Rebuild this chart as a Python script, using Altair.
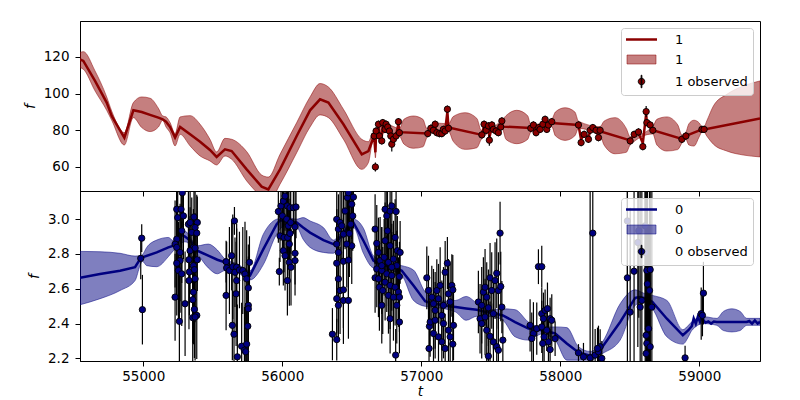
import altair as alt
import pandas as pd

# ---------------- colours ----------------
DARKRED = "#8b0000"
NAVY = "#000080"
X_DOMAIN = [54545, 59437]
X_TICKS = [55000, 56000, 57000, 58000, 59000]

# ---------------- band "1" (top panel) ----------------
line1_t = [54545, 54569, 54653, 54737, 54773, 54864, 54929, 54989, 55049, 55109,
           55140, 55164, 55193, 55229, 55265, 55337, 55409, 55480, 55528, 55588,
           55636, 55744, 55852, 55900, 55984, 56104, 56200, 56272, 56332, 56440,
           56572, 56620,
           56661, 56670, 56675, 56692, 56699, 56716, 56723, 56740, 56747, 56759,
           56771, 56781, 56788, 56800, 56819, 56836, 56843,
           57047, 57069, 57087, 57100, 57112, 57131, 57148, 57159, 57172, 57188, 57196,
           57436, 57452, 57467, 57483, 57490, 57508, 57519, 57538, 57555, 57572, 57580, 57590,
           57788, 57807, 57826, 57846, 57855, 57875, 57891, 57903, 57915, 57939,
           58131, 58150, 58172, 58203, 58215, 58234, 58258, 58275, 58287,
           58503, 58532, 58563, 58594, 58618, 58623, 58647, 58666,
           58875, 58904, 59019, 59035, 59437]
line1_f = [118.7, 117.8, 106.9, 95.1, 87.8, 76.0, 90.9, 90.0, 88.4, 86.9,
           86.0, 84.7, 81.8, 76.0, 81.8, 77.8, 73.8, 69.3, 65.5, 69.6,
           68.7, 58.7, 49.3, 47.8, 58.7, 76.9, 90.9, 96.9, 95.1, 83.3,
           66.9, 68.7,
           77.0, 68.0, 78.5, 82.0, 78.5, 76.5, 82.5, 81.0, 82.5, 81.0,
           79.0, 77.0, 74.5, 76.0, 77.5, 83.5, 79.0,
           78.3, 80.5, 80.0, 82.0, 79.5, 78.5, 78.5, 80.0, 80.0, 90.0, 81.5,
           77.5, 82.5, 80.0, 82.0, 76.0, 82.0, 80.5, 79.5, 79.0, 81.5, 83.5, 82.0,
           81.3, 82.5, 79.5, 81.0, 81.0, 83.0, 85.0, 81.5, 82.5, 84.0,
           82.9, 75.0, 78.0, 76.0, 79.5, 81.0, 79.5, 77.0, 79.5,
           74.5, 77.5, 78.5, 73.0, 89.0, 84.0, 82.5, 80.0,
           75.3, 77.0, 80.5, 80.5, 86.5]

band1_t = [54545, 54569, 54653, 54737, 54773, 54864, 54929, 54989, 55049, 55109,
           55140, 55164, 55193, 55229, 55265, 55337, 55409, 55480, 55528, 55588,
           55636, 55744, 55852, 55900, 55984, 56104, 56200, 56272, 56332, 56440,
           56572, 56620, 56650, 56661, 56670, 56680, 56760, 56843,
           56875, 56944, 57012, 57040, 57100, 57196, 57230, 57316, 57400, 57432,
           57580, 57610, 57687, 57765, 57788, 57939, 57965, 58035, 58105, 58131,
           58287, 58315, 58395, 58475, 58503, 58666, 58695, 58767, 58845, 58875,
           58904, 58925, 58962, 59000, 59019, 59035, 59054, 59102, 59198, 59318, 59437]
band1_hi = [122.4, 122.9, 112.4, 98.2, 90.5, 78.7, 95.1, 98.2, 97.5, 92.0,
            87.8, 87.3, 84.2, 78.2, 87.3, 88.0, 83.3, 75.1, 68.2, 75.6,
            75.1, 68.4, 55.6, 54.5, 66.9, 84.2, 98.2, 105.5, 103.6, 91.5,
            75.1, 73.8, 78.5, 79.0, 71.0, 81.0, 83.0, 81.0,
            86.0, 87.8, 86.0, 81.0, 84.0, 83.5, 87.5, 89.6, 86.5, 80.0,
            85.5, 88.0, 90.9, 88.0, 83.0, 86.0, 90.0, 92.3, 90.0, 85.0,
            82.0, 85.0, 86.9, 81.0, 76.5, 82.0, 86.0, 87.3, 83.0, 77.5,
            79.0, 83.5, 85.5, 84.0, 82.0, 82.0, 85.1, 93.3, 99.6, 104.2, 106.9]
band1_lo = [114.2, 113.3, 101.5, 90.9, 85.5, 72.0, 86.9, 81.5, 79.3, 81.8,
            85.5, 81.8, 78.7, 71.5, 77.8, 71.5, 66.0, 63.3, 61.1, 66.0,
            64.2, 52.4, 43.6, 40.5, 50.6, 67.8, 81.8, 88.4, 86.9, 75.1,
            58.7, 62.4, 74.0, 75.0, 65.0, 76.0, 79.0, 77.0,
            72.5, 70.2, 71.0, 76.0, 80.0, 79.5, 74.0, 69.6, 70.5, 75.0,
            81.5, 75.0, 72.7, 75.0, 79.0, 82.0, 77.0, 74.5, 77.0, 81.0,
            77.0, 72.0, 67.2, 68.0, 72.0, 78.0, 72.0, 68.7, 69.5, 73.0,
            75.0, 72.0, 71.4, 76.5, 79.0, 79.0, 76.9, 72.4, 68.7, 66.5, 65.5]

obs1_t = [56661, 56670, 56675, 56692, 56699, 56716, 56723, 56740, 56747, 56759,
          56771, 56781, 56788, 56800, 56819, 56836, 56843,
          57047, 57069, 57087, 57100, 57112, 57131, 57148, 57159, 57172, 57188, 57196,
          57436, 57452, 57467, 57483, 57490, 57508, 57519, 57538, 57555, 57572, 57580,
          57788, 57807, 57826, 57846, 57855, 57875, 57891, 57903, 57915, 57939,
          58131, 58150, 58172, 58203, 58215, 58234, 58258, 58275, 58287,
          58503, 58532, 58563, 58594, 58618, 58623, 58647, 58666,
          58875, 58904, 59019, 59035]
obs1_f = [76.9, 60.0, 79.6, 83.3, 76.9, 74.2, 84.2, 80.5, 83.3, 81.8,
          79.6, 76.9, 72.4, 75.1, 76.9, 84.7, 78.7,
          78.2, 81.1, 80.0, 83.3, 78.7, 78.2, 78.2, 80.5, 79.6, 91.5, 81.1,
          77.5, 83.3, 80.0, 82.4, 74.6, 82.9, 80.5, 79.6, 78.7, 81.8, 85.1,
          81.1, 82.9, 78.7, 81.5, 80.5, 83.3, 86.0, 80.5, 82.9, 84.7,
          82.9, 73.3, 77.8, 75.1, 80.0, 81.5, 80.0, 76.0, 80.0,
          74.2, 77.8, 79.1, 71.1, 90.2, 84.2, 82.9, 80.0,
          75.1, 76.9, 80.5, 80.5]
obs1_err = [2.0, 2.5, 2.0, 2.0, 2.0, 2.0, 2.0, 2.0, 2.0, 2.0,
            2.0, 2.0, 4.0, 2.0, 2.0, 2.0, 2.0,
            2.0, 2.0, 2.0, 2.0, 2.0, 2.0, 2.0, 2.0, 2.0, 2.0, 2.0,
            2.0, 2.0, 2.0, 2.0, 3.0, 2.0, 2.0, 2.0, 2.0, 2.0, 2.0,
            2.0, 2.0, 2.0, 2.0, 2.0, 2.0, 2.0, 2.0, 2.0, 2.0,
            2.0, 2.0, 2.0, 2.0, 2.0, 2.0, 2.0, 2.0, 2.0,
            2.0, 2.0, 2.0, 2.0, 3.0, 2.0, 2.0, 2.0,
            2.0, 2.0, 2.0, 2.0]

# ---------------- band "0" (bottom panel) ----------------
line0_t = [54545, 54689, 54833, 54941, 54977, 54994, 55097, 55181, 55217, 55241,
           55265, 55300, 55340, 55389, 55468, 55533, 55588, 55620, 55672, 55716,
           55744, 55768, 55864, 55960, 55984, 56030, 56104, 56150, 56200, 56296,
           56368, 56392, 56440, 56476, 56512, 56584, 56656, 56700, 56760, 56820,
           56860, 56944, 57028, 57060, 57130, 57200, 57248, 57323, 57400, 57450,
           57520, 57587, 57675, 57771, 57800, 57867, 57930, 57963, 58047, 58131,
           58170, 58215, 58260, 58304, 58431, 58539, 58570, 58620, 58663, 58767,
           58882, 58922, 58946, 58960, 58975, 58990, 59005, 59019, 59030, 59045,
           59065, 59085, 59105, 59126, 59234, 59342, 59360, 59380, 59400, 59420, 59437]
line0_f = [2.663, 2.685, 2.704, 2.724, 2.771, 2.781, 2.809, 2.838, 2.847, 2.880,
           2.914, 2.900, 2.876, 2.819, 2.790, 2.767, 2.752, 2.730, 2.720, 2.700,
           2.680, 2.676, 2.828, 2.971, 2.994, 2.990, 2.981, 2.952, 2.923, 2.880,
           2.857, 2.870, 2.920, 2.960, 2.981, 2.876, 2.762, 2.740, 2.730, 2.720,
           2.704, 2.619, 2.529, 2.520, 2.510, 2.500, 2.495, 2.487, 2.480, 2.470,
           2.460, 2.447, 2.409, 2.371, 2.370, 2.362, 2.350, 2.343, 2.286, 2.234,
           2.225, 2.215, 2.230, 2.267, 2.409, 2.548, 2.552, 2.545, 2.524, 2.428,
           2.333, 2.362, 2.385, 2.430, 2.400, 2.440, 2.410, 2.440, 2.420, 2.405,
           2.412, 2.400, 2.412, 2.409, 2.409, 2.409, 2.415, 2.400, 2.418, 2.400, 2.410]

band0_t = [54545, 54689, 54833, 54941, 54977, 54994, 55025, 55097, 55181, 55217,
           55300, 55389, 55468, 55533, 55588, 55672, 55768, 55864, 55960, 56030,
           56104, 56150, 56200, 56296, 56368, 56440, 56512, 56584, 56656, 56760,
           56860, 56944, 57028, 57130, 57248, 57323, 57400, 57500, 57587, 57675,
           57771, 57867, 57963, 58047, 58131, 58215, 58304, 58431, 58539, 58600,
           58663, 58767, 58882, 58922, 58946, 59030, 59126, 59174, 59234, 59294,
           59342, 59437]
band0_hi = [2.815, 2.813, 2.804, 2.788, 2.790, 2.796, 2.838, 2.880, 2.895, 2.876,
            2.930, 2.847, 2.857, 2.823, 2.771, 2.745, 2.704, 2.914, 3.000, 3.010,
            3.000, 3.009, 2.990, 2.952, 2.880, 2.940, 3.000, 2.948, 2.790, 2.750,
            2.733, 2.708, 2.581, 2.530, 2.533, 2.556, 2.518, 2.480, 2.485, 2.480,
            2.409, 2.380, 2.381, 2.377, 2.267, 2.240, 2.295, 2.514, 2.594, 2.575,
            2.562, 2.533, 2.365, 2.390, 2.410, 2.440, 2.430, 2.470, 2.485, 2.470,
            2.430, 2.430]
band0_lo = [2.508, 2.543, 2.590, 2.647, 2.733, 2.758, 2.733, 2.727, 2.785, 2.819,
            2.870, 2.800, 2.720, 2.686, 2.705, 2.695, 2.651, 2.739, 2.914, 2.970,
            2.956, 2.885, 2.838, 2.809, 2.804, 2.900, 2.952, 2.804, 2.720, 2.710,
            2.676, 2.533, 2.499, 2.490, 2.466, 2.419, 2.442, 2.440, 2.419, 2.324,
            2.305, 2.340, 2.305, 2.190, 2.190, 2.190, 2.228, 2.305, 2.505, 2.525,
            2.486, 2.324, 2.282, 2.324, 2.360, 2.400, 2.390, 2.360, 2.352, 2.360,
            2.390, 2.390]

obs0_t = [54989, 54982, 54994,
          55241, 55248, 55281, 55272, 55289, 55325, 55337, 55365, 55389, 55373,
          55349, 55385, 55277, 55241, 55229, 55241, 55265, 55265, 55361, 55337,
          55373, 55389, 55329, 55361, 55241, 55253, 55277, 55332, 55368, 55373,
          55329, 55229, 55361, 55356, 55301, 55368, 55385, 55356, 55260, 55373,
          55596, 55636, 55656, 55600, 55620, 55644, 55672, 55660, 55692, 55716,
          55732, 55764, 55744, 55756, 55672, 55668, 55596, 55756, 55756, 55641,
          55653, 55752, 55708, 55744, 55728, 55677, 55737,
          55972, 55991, 56008, 56020, 56037, 56056, 56080, 56099, 56001, 56032,
          56044, 56061, 56092, 55984, 56013, 56039, 56056, 56008, 56051, 56092,
          56092, 56051, 56063, 55979, 56037, 56020,
          56361, 56392, 56392, 56404, 56416, 56428, 56440, 56452, 56469, 56476,
          56500, 56512, 56507, 56493, 56483, 56500, 56464, 56392, 56404, 56392,
          56440, 56476, 56404, 56416, 56440, 56392, 56440, 56476, 56404,
          56668, 56680, 56692, 56704, 56680, 56668, 56699, 56716, 56740, 56752,
          56776, 56788, 56819, 56757, 56740, 56776, 56812, 56828, 56848, 56733,
          56764, 56800, 56824, 56716, 56752, 56788, 56843, 56740, 56776, 56812,
          56836, 56764, 56800, 56843, 56824, 56776, 56843, 56816, 56716, 56788,
          56692, 56723,
          57040, 57052, 57059, 57056, 57076, 57088, 57100, 57112, 57124, 57136,
          57148, 57160, 57172, 57188, 57196, 57208, 57220, 57227, 57232, 57227,
          57064, 57088, 57124, 57148, 57172, 57100, 57196, 57208, 57160,
          57411, 57423, 57435, 57447, 57459, 57471, 57483, 57495, 57507, 57519,
          57531, 57543, 57555, 57567, 57572, 57580, 57587, 57435, 57471, 57495,
          57519, 57543, 57483, 57555, 57459,
          57783, 57807, 57831, 57843, 57795, 57867, 57867, 57879, 57891, 57908,
          57927, 57939, 57867, 57903, 57884, 57915, 57963, 57927, 57874,
          58131, 58167, 58215, 58234, 58251, 58275, 58287, 58268, 58299,
          58483, 58503, 58531, 58565, 58575, 58587, 58611, 58623, 58627, 58642,
          58647, 58659, 58618, 58623, 58618, 58635, 58483, 58558, 58611, 58647,
          58898, 59014, 59030, 59023]
obs0_f = [2.891, 2.775, 2.480,
          3.057, 3.009, 3.152, 3.057, 3.019, 2.971, 2.981, 3.013, 2.981, 2.952,
          2.924, 2.920, 2.933, 2.885, 2.857, 2.838, 2.809, 2.762, 2.838, 2.819,
          2.834, 2.767, 2.767, 2.733, 2.747, 2.705, 2.686, 2.697, 2.710, 2.657,
          2.647, 2.552, 2.581, 2.537, 2.514, 2.482, 2.447, 2.434, 2.413, 2.438,
          2.756, 2.790, 2.990, 2.720, 2.705, 2.727, 2.724, 2.695, 2.708, 2.705,
          2.685, 2.752, 2.657, 2.605, 2.647, 2.571, 2.562, 2.505, 2.485, 2.390,
          2.339, 2.385, 2.270, 2.282, 2.247, 2.209, 2.238,
          3.044, 3.076, 3.104, 3.133, 3.076, 3.066, 3.066, 3.070, 3.019, 3.000,
          2.962, 2.981, 2.956, 2.904, 2.895, 2.895, 2.918, 2.819, 2.857, 2.804,
          2.762, 2.752, 2.724, 2.699, 2.647, 2.790,
          2.339, 2.308, 2.999, 2.943, 2.981, 2.962, 2.914, 3.047, 3.124, 3.152,
          3.086, 3.127, 3.019, 2.971, 2.918, 2.847, 2.857, 2.857, 2.809, 2.747,
          2.758, 2.765, 2.657, 2.590, 2.594, 2.543, 2.533, 2.533, 2.505,
          2.943, 2.861, 2.809, 2.762, 2.714, 2.663, 2.609, 2.505, 3.057, 3.019,
          3.047, 3.076, 3.044, 2.933, 2.876, 2.847, 2.895, 2.819, 2.809, 2.781,
          2.752, 2.771, 2.733, 2.705, 2.686, 2.676, 2.670, 2.638, 2.619, 2.609,
          2.581, 2.562, 2.552, 2.552, 2.505, 2.428, 2.409, 2.219, 2.733, 2.724,
          2.657, 2.590,
          2.663, 2.590, 2.384, 2.257, 2.552, 2.514, 2.476, 2.590, 2.543, 2.619,
          2.447, 2.505, 2.695, 2.747, 2.571, 2.524, 2.619, 2.594, 2.390, 2.282,
          2.409, 2.343, 2.324, 2.295, 2.257, 2.419, 2.362, 2.324, 2.400,
          2.524, 2.428, 2.505, 2.581, 2.609, 2.552, 2.491, 2.663, 2.590, 2.457,
          2.647, 2.689, 2.590, 2.920, 2.613, 2.495, 2.305, 2.400, 2.362, 2.327,
          2.295, 2.267, 2.213, 2.247, 2.438,
          2.390, 2.343, 2.371, 2.727, 2.314, 2.727, 2.457, 2.428, 2.476, 2.486,
          2.428, 2.419, 2.381, 2.362, 2.324, 2.295, 2.314, 2.251, 2.286,
          2.232, 2.209, 2.203, 2.920, 2.219, 2.238, 2.267, 2.257, 2.200,
          2.663, 2.466, 2.701, 2.933, 2.495, 2.533, 2.809, 2.705, 2.628, 2.590,
          2.710, 2.495, 2.333, 2.286, 2.228, 2.371, 2.990, 2.866, 2.962, 2.267,
          2.203, 2.457, 2.575, 2.447]
obs0_err = [0.08, 0.12, 0.20,
            0.25, 0.30, 0.20, 0.22, 0.25, 0.20, 0.22, 0.18, 0.15, 0.25,
            0.20, 0.22, 0.30, 0.35, 0.25, 0.30, 0.28, 0.30, 0.22, 0.25,
            0.20, 0.18, 0.25, 0.22, 0.30, 0.28, 0.30, 0.25, 0.22, 0.25,
            0.28, 0.25, 0.30, 0.25, 0.30, 0.28, 0.25, 0.30, 0.35, 0.25,
            0.12, 0.20, 0.08, 0.15, 0.25, 0.30, 0.25, 0.20, 0.22, 0.25,
            0.30, 0.15, 0.28, 0.25, 0.30, 0.30, 0.20, 0.25, 0.30, 0.20,
            0.25, 0.30, 0.25, 0.30, 0.25, 0.30, 0.28,
            0.18, 0.20, 0.15, 0.20, 0.18, 0.20, 0.15, 0.18, 0.20, 0.22,
            0.20, 0.18, 0.20, 0.15, 0.20, 0.22, 0.20, 0.20, 0.22, 0.18,
            0.20, 0.25, 0.22, 0.08, 0.20, 0.20,
            0.15, 0.12, 0.18, 0.20, 0.22, 0.20, 0.25, 0.22, 0.20, 0.22,
            0.20, 0.18, 0.20, 0.22, 0.25, 0.22, 0.25, 0.20, 0.25, 0.22,
            0.25, 0.22, 0.25, 0.25, 0.22, 0.20, 0.25, 0.22, 0.20,
            0.20, 0.22, 0.20, 0.25, 0.22, 0.20, 0.25, 0.22, 0.20, 0.22,
            0.20, 0.22, 0.20, 0.25, 0.22, 0.25, 0.22, 0.20, 0.18, 0.22,
            0.25, 0.22, 0.20, 0.25, 0.22, 0.25, 0.20, 0.22, 0.25, 0.22,
            0.20, 0.22, 0.25, 0.20, 0.22, 0.20, 0.18, 0.15, 0.22, 0.25,
            0.22, 0.25,
            0.18, 0.20, 0.15, 0.15, 0.18, 0.20, 0.22, 0.18, 0.20, 0.22,
            0.20, 0.22, 0.18, 0.15, 0.20, 0.22, 0.18, 0.20, 0.20, 0.18,
            0.20, 0.22, 0.20, 0.22, 0.20, 0.22, 0.20, 0.22, 0.20,
            0.18, 0.20, 0.22, 0.20, 0.22, 0.20, 0.22, 0.20, 0.22, 0.20,
            0.22, 0.20, 0.22, 0.18, 0.20, 0.15, 0.12, 0.20, 0.22, 0.20,
            0.22, 0.20, 0.18, 0.20, 0.22,
            0.15, 0.18, 0.15, 0.10, 0.15, 0.12, 0.15, 0.15, 0.12, 0.15,
            0.12, 0.15, 0.15, 0.12, 0.15, 0.12, 0.10, 0.12, 0.15,
            0.05, 0.08, 1.20, 1.00, 0.15, 0.15, 0.10, 0.12, 0.10,
            0.80, 0.60, 0.70, 0.50, 0.90, 0.80, 0.70, 0.80, 0.90, 0.80,
            0.90, 0.70, 0.80, 0.90, 0.70, 0.60, 0.50, 0.60, 0.60, 0.80,
            0.07, 0.15, 0.18, 0.12]

assert len(line1_t) == len(line1_f)
assert len(band1_t) == len(band1_hi) == len(band1_lo)
assert len(obs1_t) == len(obs1_f) == len(obs1_err)
assert len(line0_t) == len(line0_f)
assert len(band0_t) == len(band0_hi) == len(band0_lo)
assert len(obs0_t) == len(obs0_f) == len(obs0_err)

# legend glyphs (unit paths)
LINE_PATH = "M-3.1,-0.25H3.1V0.25H-3.1Z"
RECT_PATH = "M-2.9,-0.9H2.9V0.9H-2.9Z"
OBS_PATH = ("M0.65,0A0.65,0.65,0,1,1,-0.65,0A0.65,0.65,0,1,1,0.65,0Z"
            "M-0.07,-1.25H0.07V1.25H-0.07Z")


def panel(name, color, band_rgba, line_t, line_f, band_t, band_lo, band_hi,
          obs_t, obs_f, obs_err, y_domain, y_ticks, y_format, bottom):
    line_df = pd.DataFrame({"t": line_t, "f": line_f})
    band_df = pd.DataFrame({"t": band_t, "lo": band_lo, "hi": band_hi})
    obs_df = pd.DataFrame({"t": obs_t, "f": obs_f, "err": obs_err})
    obs_df["lo"] = obs_df["f"] - obs_df["err"]
    obs_df["hi"] = obs_df["f"] + obs_df["err"]

    if bottom:
        x_axis = alt.Axis(values=X_TICKS, format="d", title="t", titlePadding=2,
                          labelPadding=3, titleFontSize=13.5)
    else:
        x_axis = alt.Axis(values=X_TICKS, labels=False, title=None)
    xs = alt.Scale(domain=X_DOMAIN, nice=False, zero=False)
    ys = alt.Scale(domain=y_domain, nice=False, zero=False)
    x_enc = alt.X("t:Q", scale=xs, axis=x_axis)
    y_axis = alt.Axis(values=y_ticks, format=y_format, title="f", titlePadding=6,
                      labelPadding=6)

    band = alt.Chart(band_df).mark_area(
        fill=color, fillOpacity=0.5, stroke=color, strokeOpacity=0.5,
        strokeWidth=1, interpolate="monotone", clip=True
    ).encode(x=x_enc, y=alt.Y("lo:Q", scale=ys, axis=y_axis), y2="hi:Q")

    line = alt.Chart(line_df).mark_line(
        color=color, strokeWidth=2.5, clip=True
    ).encode(x="t:Q", y="f:Q")

    bars = alt.Chart(obs_df).mark_rule(
        color="black", strokeWidth=1.2, clip=True
    ).encode(x="t:Q", y="lo:Q", y2="hi:Q")

    pts = alt.Chart(obs_df).mark_circle(
        size=40, color=color, opacity=1, stroke="black", strokeWidth=0.9, clip=True
    ).encode(x="t:Q", y="f:Q")

    keys = [name, name + " band", name + " observed"]
    k0 = "datum.value === '%s'" % keys[0]
    k1 = "datum.value === '%s'" % keys[1]
    shape_expr = "%s ? '%s' : (%s ? '%s' : '%s')" % (k0, LINE_PATH, k1, RECT_PATH, OBS_PATH)
    stroke_expr = "%s ? 'transparent' : (%s ? '%s' : 'black')" % (k0, k1, band_rgba)
    leg = alt.Legend(
        title=None, orient="top-right", offset=7, padding=5, rowPadding=6,
        symbolSize=100, symbolOffset=9, labelOffset=27,
        symbolType=alt.ExprRef(expr=shape_expr),
        symbolStrokeColor=alt.ExprRef(expr=stroke_expr),
        symbolStrokeWidth=1, symbolOpacity=1,
        labelFont="DejaVu Sans", labelFontSize=13, labelColor="black",
        fillColor="rgba(255,255,255,0.8)", strokeColor="#cccccc", cornerRadius=3,
        labelExpr="datum.value === '%s' ? '%s' : datum.label" % (keys[1], name),
    )
    legend_layer = alt.Chart(pd.DataFrame({"key": keys})).transform_filter(
        "datum.key === 'none'"
    ).mark_point(filled=True, opacity=1).encode(
        color=alt.Color("key:N", scale=alt.Scale(domain=keys, range=[color, band_rgba, color]),
                        legend=leg)
    )

    return alt.layer(band, line, bars, pts, legend_layer).properties(width=680, height=170)


top = panel("1", DARKRED, "rgba(139,0,0,0.5)", line1_t, line1_f, band1_t, band1_lo, band1_hi,
            obs1_t, obs1_f, obs1_err, [46.9, 139.6], [60, 80, 100, 120], "d", False)
bottom = panel("0", NAVY, "rgba(0,0,128,0.5)", line0_t, line0_f, band0_t, band0_lo, band0_hi,
               obs0_t, obs0_f, obs0_err, [2.185, 3.162], [2.2, 2.4, 2.6, 2.8, 3.0], ".1f", True)

chart = alt.vconcat(top, bottom, spacing=0, bounds="flush").resolve_scale(
    color="independent"
).resolve_legend(color="independent").properties(
    padding={"left": 14, "top": 12, "right": 10, "bottom": 0}
).configure_axis(
    labelFont="DejaVu Sans", labelFontSize=13.5, labelColor="black",
    titleFont="DejaVu Sans", titleFontSize=14, titleFontWeight="normal",
    titleFontStyle="italic", titleColor="black",
    tickColor="black", domainColor="black", tickSize=5, labelPadding=4, grid=False
).configure_view(stroke="black", strokeWidth=1)

chart.save("out.html", embed_options={"renderer": "svg", "actions": False})
